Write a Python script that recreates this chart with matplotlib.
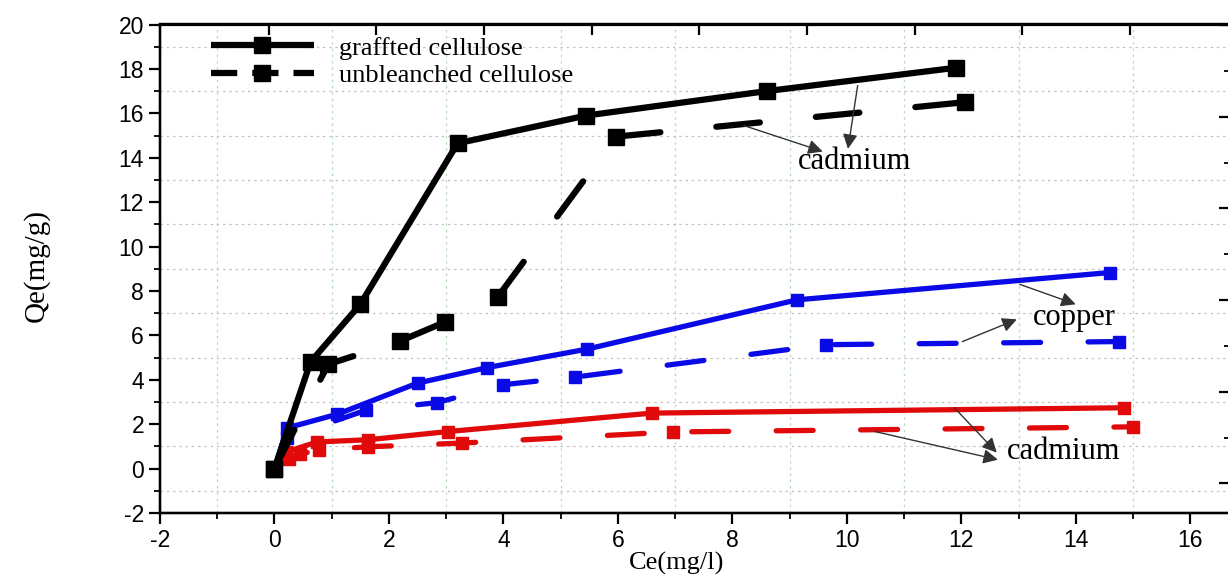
import matplotlib
matplotlib.use("Agg")
import matplotlib.pyplot as plt
from matplotlib.lines import Line2D
from matplotlib.ticker import MultipleLocator, FixedLocator, NullFormatter

plt.rcParams["axes.unicode_minus"] = False

# ---------------- data ----------------
cu_x_grafted = [0, 0.63, 1.5, 3.2, 5.45, 8.6, 11.9]          # black solid (cadmium, grafted)
cu_y_grafted = [0, 4.8, 7.4, 14.65, 15.9, 17.0, 18.05]
cd_x_unbl = [0, 0.94, 2.2, 2.98, 3.9, 5.97, 12.06]            # black dashed
cd_y_unbl = [0, 4.7, 5.75, 6.6, 7.73, 14.95, 16.5]

cop_x_grafted = [0, 0.22, 1.1, 2.5, 3.72, 5.46, 9.13, 14.6]   # blue solid (copper)
cop_y_grafted = [0, 1.83, 2.45, 3.85, 4.55, 5.38, 7.6, 8.83]
cop_x_unbl = [0, 0.22, 1.6, 2.84, 4.0, 5.25, 9.63, 14.75]     # blue dashed
cop_y_unbl = [0, 1.4, 2.63, 2.97, 3.78, 4.12, 5.58, 5.72]

red_x_grafted = [0, 0.2, 0.75, 1.64, 3.04, 6.6, 14.85]        # red solid
red_y_grafted = [0, 0.75, 1.2, 1.3, 1.67, 2.5, 2.74]
red_x_unbl = [0, 0.25, 0.45, 0.77, 1.64, 3.28, 6.96, 15.0]    # red dashed
red_y_unbl = [0, 0.45, 0.65, 0.85, 0.98, 1.15, 1.65, 1.88]

legend_labels = ["graffted cellulose", "unbleanched cellulose"]
x_label = "Ce(mg/l)"
y_label = "Qe(mg/g)"

# ---------------- figure ----------------
W, H = 1228, 577
fig = plt.figure(figsize=(W / 100, H / 100), dpi=100)
left_px, right_px, top_px, bot_px = 160, 1236, 24.5, 513
ax = fig.add_axes([left_px / W, 1 - bot_px / H, (right_px - left_px) / W, (bot_px - top_px) / H])

SERIF = ["Liberation Serif", "DejaVu Serif"]
SANS = ["Liberation Sans", "DejaVu Sans"]

dash = (7, 9)
lw_k, lw_c = 4.5, 3.8
ms_k, ms_c = 11, 8.5

ax.plot(cu_x_grafted, cu_y_grafted, color="black", lw=lw_k, marker="s", ms=ms_k,
        solid_capstyle="round", solid_joinstyle="round", zorder=5)
ax.plot(cd_x_unbl, cd_y_unbl, color="black", lw=lw_k, marker="s", ms=ms_k,
        dashes=dash, dash_capstyle="round", zorder=5)
ax.plot(cop_x_grafted, cop_y_grafted, color="#0a0ae6", lw=lw_c, marker="s", ms=ms_c,
        solid_capstyle="round", solid_joinstyle="round", zorder=4)
ax.plot(cop_x_unbl, cop_y_unbl, color="#0a0ae6", lw=lw_c, marker="s", ms=ms_c,
        dashes=dash, dash_capstyle="round", zorder=4)
ax.plot(red_x_grafted, red_y_grafted, color="#e00a0a", lw=lw_c, marker="s", ms=ms_c,
        solid_capstyle="round", solid_joinstyle="round", zorder=4)
ax.plot(red_x_unbl, red_y_unbl, color="#e00a0a", lw=lw_c, marker="s", ms=ms_c,
        dashes=dash, dash_capstyle="round", zorder=4)

ax.set_xlim(-2, 16.8)
ax.set_ylim(-2, 20)
ax.xaxis.set_major_locator(MultipleLocator(2))
ax.xaxis.set_minor_locator(MultipleLocator(1))
ax.yaxis.set_major_locator(MultipleLocator(2))
ax.yaxis.set_minor_locator(MultipleLocator(1))

# grid only at odd (minor) values
odd_x = [v for v in range(-1, 17, 2)]
odd_y = [v for v in range(-1, 20, 2)]
for v in odd_x:
    ax.axvline(v, color="#b9dcb9", lw=0.9, ls=(0, (2, 3)), zorder=0)
for v in odd_y:
    ax.axhline(v, color="#c4c4c4", lw=0.9, ls=(0, (2, 3)), zorder=0)

for s in ax.spines.values():
    s.set_linewidth(1.6)
ax.tick_params(which="major", direction="out", length=8, width=1.6, labelsize=16.5,
               top=False, right=False)
ax.tick_params(which="minor", direction="out", length=4, width=1.3, top=False, right=False)
for lab in ax.get_xticklabels() + ax.get_yticklabels():
    lab.set_family(SANS)

# secondary top/right ticks (as in the source layer)
axt = ax.twiny()
axt.set_xlim(ax.get_xlim())
axt.xaxis.set_major_locator(FixedLocator([-0.1 + 1.881 * k for k in range(10)]))
axt.xaxis.set_major_formatter(NullFormatter())
axt.tick_params(axis="x", direction="in", length=8, width=1.6)
axr = ax.twinx()
axr.set_ylim(ax.get_ylim())
axr.yaxis.set_major_locator(FixedLocator([15.85 - 4.13 * k for k in range(-1, 5)]))
axr.yaxis.set_minor_locator(FixedLocator([15.85 + 2.065 - 4.13 * k for k in range(0, 5)]))
axr.yaxis.set_major_formatter(NullFormatter())
axr.tick_params(axis="y", which="major", direction="in", length=12, width=1.6)
axr.tick_params(axis="y", which="minor", direction="in", length=9, width=1.3)
for a in (axt, axr):
    for s in a.spines.values():
        s.set_linewidth(1.6)

# legend (proxy handles mimic the source legend glyphs)
h1 = Line2D([], [], color="black", lw=lw_k, marker="s", ms=ms_k, solid_capstyle="butt")
h2 = Line2D([], [], color="black", lw=lw_k, marker="s", ms=ms_k, dashes=(4.2, 2.4),
            dash_capstyle="butt")
leg = ax.legend([h1, h2], legend_labels, loc="upper left", frameon=False,
                bbox_to_anchor=(0.03, 1.014), prop={"family": SERIF, "size": 19},
                handlelength=3.9, handletextpad=0.95, labelspacing=0.15, borderaxespad=0.3)

# annotations
arrow = dict(arrowstyle="-|>", color="#333333", lw=1.0, mutation_scale=22,
             shrinkA=0, shrinkB=0)
ax.annotate("", xy=(10.02, 14.4), xytext=(10.19, 17.25), arrowprops=arrow, zorder=6)
ax.annotate("", xy=(9.58, 14.28), xytext=(8.2, 15.45), arrowprops=arrow, zorder=6)
ax.text(9.15, 13.85, "cadmium", family=SERIF, fontsize=22, va="center", ha="left")

ax.annotate("", xy=(14.0, 7.4), xytext=(13.02, 8.3), arrowprops=arrow, zorder=6)
ax.annotate("", xy=(12.97, 6.72), xytext=(12.02, 5.72), arrowprops=arrow, zorder=6)
ax.text(13.25, 6.8, "copper", family=SERIF, fontsize=22, va="center", ha="left")

ax.annotate("", xy=(12.62, 0.72), xytext=(11.88, 2.74), arrowprops=arrow, zorder=6)
ax.annotate("", xy=(12.64, 0.4), xytext=(10.49, 1.67), arrowprops=arrow, zorder=6)
ax.text(12.8, 0.75, "cadmium", family=SERIF, fontsize=22, va="center", ha="left")

# axis labels
fig.text(677 / W, 2 / H, x_label, family=SERIF, fontsize=19, ha="center", va="bottom")
fig.text(36 / W, 1 - 266 / H, y_label, family=SERIF, fontsize=21, ha="center", va="center",
         rotation=90)

fig.savefig("out.png", dpi=100)
